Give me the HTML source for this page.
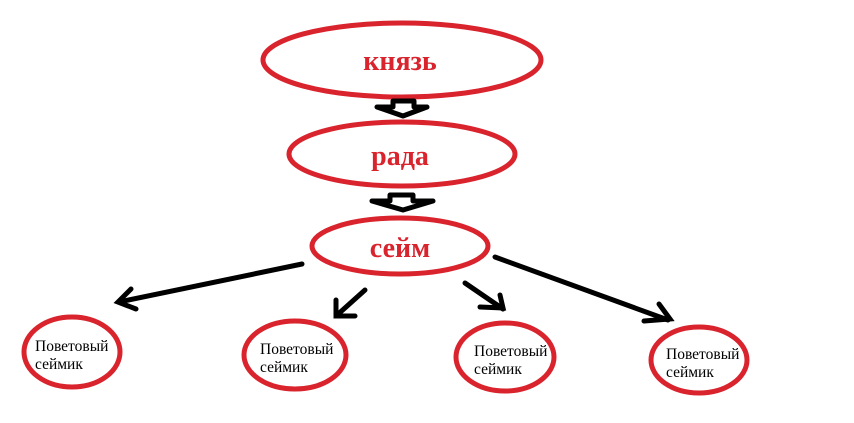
<!DOCTYPE html>
<html><head><meta charset="utf-8"><style>
html,body{margin:0;padding:0;background:#fff;width:854px;height:423px;overflow:hidden}
</style></head><body>
<svg width="854" height="423" viewBox="0 0 854 423" xmlns="http://www.w3.org/2000/svg">
<g fill="none" stroke="#d9232d" stroke-width="5">
<ellipse cx="402" cy="60" rx="139" ry="37"/>
<ellipse cx="402" cy="154" rx="113" ry="32"/>
<ellipse cx="400" cy="246" rx="88" ry="28"/>
<ellipse cx="72" cy="352" rx="48" ry="35"/>
<ellipse cx="295" cy="355" rx="51" ry="34"/>
<ellipse cx="505" cy="357" rx="49" ry="34"/>
<ellipse cx="699" cy="360" rx="48" ry="33"/>
</g>
<g fill="#fff" stroke="#000" stroke-width="5" stroke-linejoin="round">
<polygon points="393,101 414,101 414,107 427,107 403,116 377,107 393,107"/>
<polygon points="390,195 413,195 413,201 433,201 403,210 372,201 390,201"/>
</g>
<g stroke="#000" stroke-width="5" stroke-linecap="round" fill="none">
<line x1="302" y1="264" x2="119" y2="302"/><polyline points="131,289 118,302 136,309"/>
<line x1="365" y1="290" x2="336" y2="316"/><polyline points="336,300 336,316 355,316"/>
<line x1="465" y1="283" x2="503" y2="309"/><polyline points="480,307 503,308 500,295"/>
<line x1="495" y1="257" x2="668" y2="320"/><polyline points="644,321 670,319 659,304"/>
</g>
<g font-family="Liberation Serif, serif" font-weight="bold" fill="#d9232d" font-size="28" text-anchor="middle">
<text x="400" y="70">князь</text>
<text x="400" y="165">рада</text>
<text x="400" y="257">сейм</text>
</g>
<g font-family="Liberation Serif, serif" fill="#000" font-size="15.5">
<text x="35" y="351">Поветовый</text><text x="35" y="369">сеймик</text>
<text x="260" y="354">Поветовый</text><text x="260" y="372">сеймик</text>
<text x="474" y="356">Поветовый</text><text x="474" y="374">сеймик</text>
<text x="666" y="359">Поветовый</text><text x="666" y="377">сеймик</text>
</g>
</svg>
</body></html>
